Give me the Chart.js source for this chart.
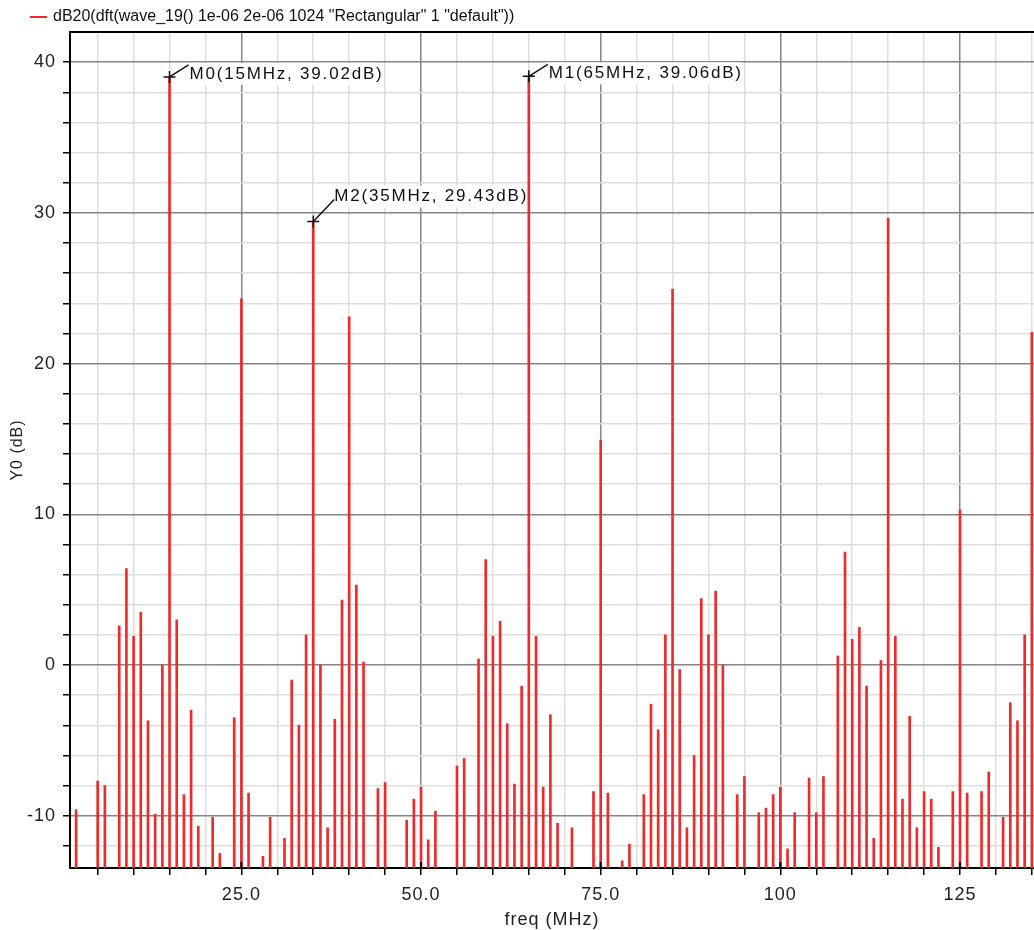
<!DOCTYPE html>
<html>
<head>
<meta charset="utf-8">
<title>dB20 spectrum</title>
<script src="https://cdn.jsdelivr.net/npm/chart.js@4.4.0/dist/chart.umd.min.js"></script>
<style>
  html, body { margin: 0; padding: 0; background: #fff; }
  canvas { display: block; }
</style>
</head>
<body>
<canvas id="spectrum" width="1034" height="930"></canvas>
<script>
const traceName = 'dB20(dft(wave_19() 1e-06 2e-06 1024 "Rectangular" 1 "default"))';

// spectral lines on 1 MHz bins; bins that fall below the plot floor are left out
const freqMHz = [
  2, 5, 6, 8, 9, 10, 11, 12, 13, 14, 15, 16, 17, 18, 19, 21, 22, 24, 25, 26,
  28, 29, 31, 32, 33, 34, 35, 36, 37, 38, 39, 40, 41, 42, 44, 45, 48, 49, 50, 51,
  52, 55, 56, 58, 59, 60, 61, 62, 63, 64, 65, 66, 67, 68, 69, 71, 74, 75, 76, 78,
  79, 81, 82, 83, 84, 85, 86, 87, 88, 89, 90, 91, 92, 94, 95, 97, 98, 99, 100, 101,
  102, 104, 105, 106, 108, 109, 110, 111, 112, 113, 114, 115, 116, 117, 118, 119, 120, 121, 122, 124,
  125, 126, 128, 129, 131, 132, 133, 134, 135
];
const levelDb = [
  -9.6, -7.7, -8.0, 2.6, 6.4, 1.9, 3.5, -3.7, -9.9, 0.0, 39.02, 3.0, -8.6, -3.0, -10.7, -10.1, -12.5, -3.5, 24.3, -8.5,
  -12.7, -10.1, -11.5, -1.0, -4.0, 2.0, 29.43, 0.0, -10.8, -3.6, 4.3, 23.1, 5.3, 0.2, -8.2, -7.8, -10.3, -8.9, -8.1, -11.6,
  -9.7, -6.7, -6.2, 0.4, 7.0, 1.9, 2.9, -3.9, -7.9, -1.4, 39.06, 1.9, -8.1, -3.3, -10.5, -10.8, -8.4, 14.9, -8.5, -13.0,
  -11.9, -8.6, -2.6, -4.3, 2.0, 24.95, -0.3, -10.8, -6.0, 4.4, 2.0, 4.9, 0.0, -8.6, -7.4, -9.8, -9.5, -8.6, -8.1, -12.2,
  -9.8, -7.5, -9.8, -7.4, 0.6, 7.5, 1.7, 2.5, -1.4, -11.5, 0.3, 29.66, 1.9, -8.9, -3.4, -10.8, -8.4, -8.9, -12.1, -8.4,
  10.3, -8.5, -8.4, -7.1, -10.1, -2.5, -3.7, 2.0, 22.07
];

const markerNames = ["M0", "M1", "M2"];
const markerFreqs = [15, 65, 35];

const xMajorTicks = [25, 50, 75, 100, 125];
const yMajorTicks = [-10, 0, 10, 20, 30, 40];
const X_MIN = 1.15, X_MAX = 135.3;
const Y_MIN = -13.47, Y_MAX = 42.0;

const FONT = '"Liberation Sans", Arial, sans-serif';
const RED = '#f02a2a';
const GRID_DARK = '#858585';
const GRID_LIGHT = '#dedede';

// minor grid every 5 MHz / 2 dB
const xTicks = [];
for (let v = 5; v <= 135; v += 5) xTicks.push(v);
const yTicks = [];
for (let v = -12; v <= 40; v += 2) yTicks.push(v);

const extras = {
  id: 'extras',
  beforeDraw(chart) {
    chart.ctx.letterSpacing = '1px';
  },
  afterDatasetsDraw(chart) {
    const { ctx, chartArea, scales: { x, y } } = chart;
    ctx.save();
    // top frame
    ctx.strokeStyle = '#000';
    ctx.lineWidth = 2;
    ctx.beginPath();
    ctx.moveTo(chartArea.left, chartArea.top);
    ctx.lineTo(chartArea.right, chartArea.top);
    // major x ticks also reach up into the plot
    xMajorTicks.forEach(v => {
      const px = x.getPixelForValue(v);
      ctx.moveTo(px, chartArea.bottom);
      ctx.lineTo(px, chartArea.bottom - 6);
    });
    ctx.stroke();

    // legend
    ctx.letterSpacing = '0px';
    ctx.strokeStyle = RED;
    ctx.beginPath();
    ctx.moveTo(30, 17);
    ctx.lineTo(47, 17);
    ctx.stroke();
    ctx.fillStyle = '#111';
    ctx.font = '16px ' + FONT;
    ctx.textBaseline = 'middle';
    ctx.fillText(traceName, 53, 17);

    // markers: [text dx, text dy, leader end dx, leader end dy]
    const offs = [[20, -3, 19, -12], [20, -3, 19, -12], [21, -25, 21, -22]];
    ctx.font = '17px ' + FONT;
    ctx.letterSpacing = '1.8px';
    markerNames.forEach((name, i) => {
      const f = markerFreqs[i];
      const v = levelDb[freqMHz.indexOf(f)];
      const px = x.getPixelForValue(f);
      const py = y.getPixelForValue(v);
      const label = name + '(' + f + 'MHz, ' + v.toFixed(2) + 'dB)';
      const o = offs[i];
      const w = ctx.measureText(label).width;
      ctx.fillStyle = '#fff';
      ctx.fillRect(px + o[0] - 2, py + o[1] - 11, w, 22);
      ctx.fillStyle = '#111';
      ctx.fillText(label, px + o[0], py + o[1]);
      ctx.strokeStyle = '#111';
      ctx.lineWidth = 1.5;
      ctx.beginPath();
      ctx.moveTo(px - 6, py); ctx.lineTo(px + 6, py);
      ctx.moveTo(px, py - 6); ctx.lineTo(px, py + 6);
      ctx.moveTo(px, py); ctx.lineTo(px + o[2], py + o[3]);
      ctx.stroke();
    });
    ctx.restore();
  }
};

new Chart(document.getElementById('spectrum'), {
  type: 'bar',
  data: {
    datasets: [{
      label: traceName,
      data: freqMHz.map((f, i) => ({ x: f, y: levelDb[i] })),
      backgroundColor: RED,
      borderWidth: 0,
      barThickness: 2,
      base: Y_MIN
    }]
  },
  options: {
    responsive: false,
    animation: false,
    layout: { padding: { top: 32, left: 0, right: 0, bottom: 0 } },
    plugins: { legend: { display: false }, tooltip: { enabled: false } },
    scales: {
      x: {
        type: 'linear',
        min: X_MIN,
        max: X_MAX,
        offset: false,
        afterBuildTicks: s => { s.ticks = xTicks.map(v => ({ value: v })); },
        afterFit: s => { s.height = 62; s.paddingLeft = 0; s.paddingRight = 0; },
        grid: {
          offset: false,
          lineWidth: 1.5,
          color: c => (c.tick && xMajorTicks.includes(c.tick.value)) ? GRID_DARK : GRID_LIGHT,
          tickColor: '#000',
          tickLength: 7
        },
        border: { color: '#000', width: 2 },
        ticks: {
          autoSkip: false,
          maxRotation: 0,
          padding: 9,
          color: '#222',
          font: { family: FONT, size: 18 },
          callback: v => xMajorTicks.includes(v) ? (v < 100 ? v.toFixed(1) : String(v)) : ''
        },
        title: {
          display: true,
          text: 'freq (MHz)',
          color: '#222',
          font: { family: FONT, size: 18, lineHeight: 1 },
          padding: { top: 0, bottom: 1 }
        }
      },
      y: {
        min: Y_MIN,
        max: Y_MAX,
        afterBuildTicks: s => { s.ticks = yTicks.map(v => ({ value: v })); },
        afterFit: s => { s.width = 70; s.paddingTop = 0; s.paddingBottom = 0; },
        grid: {
          lineWidth: 1.5,
          color: c => (c.tick && yMajorTicks.includes(c.tick.value)) ? GRID_DARK : GRID_LIGHT,
          tickColor: '#000',
          tickLength: 7
        },
        border: { color: '#000', width: 2 },
        ticks: {
          autoSkip: false,
          padding: 7,
          color: '#222',
          font: { family: FONT, size: 18 },
          callback: v => yMajorTicks.includes(v) ? String(v) : ''
        },
        title: {
          display: true,
          text: 'Y0 (dB)',
          color: '#222',
          font: { family: FONT, size: 16 },
          padding: { top: 8 }
        }
      }
    }
  },
  plugins: [extras]
});
</script>
</body>
</html>
